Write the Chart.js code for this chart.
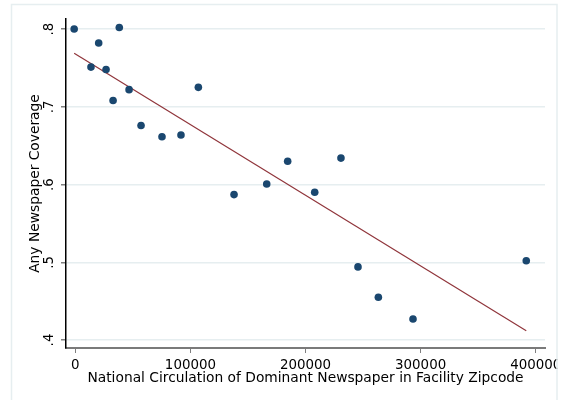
<!DOCTYPE html>
<html>
<head>
<meta charset="utf-8">
<script src="https://cdn.jsdelivr.net/npm/chart.js@4"></script>
<style>
  html, body { margin: 0; padding: 0; background: #fff; }
  #wrap { width: 563px; height: 400px; }
</style>
</head>
<body>
<div id="wrap"><canvas id="chartCanvas" width="563" height="400"></canvas></div>
<script>
// binned scatter: circulation vs share with any coverage
const circulation = [-1000, 13600, 20300, 26700, 32800, 38200, 46700, 57100, 75300, 91800,
  106900, 137900, 166300, 184500, 208000, 230800, 245600, 263300, 293400, 391800];
const coverage = [0.800, 0.751, 0.782, 0.748, 0.708, 0.802, 0.722, 0.676, 0.6615, 0.6637,
  0.725, 0.587, 0.6006, 0.630, 0.590, 0.634, 0.494, 0.455, 0.427, 0.502];

// fitted line end points
const fitX = [-1000, 391800];
const fitY = [0.7687, 0.412];

const xTicks = [0, 100000, 200000, 300000, 400000];
const yTicks = [0.4, 0.5, 0.6, 0.7, 0.8];

const xTitle = 'National Circulation of Dominant Newspaper in Facility Zipcode';
const yTitle = 'Any Newspaper Coverage';

const font = { family: 'DejaVu Sans', size: 13.4 };
const titleFont = { family: 'DejaVu Sans', size: 13.8 };

const framePlugin = {
  id: 'frame',
  afterDraw(chart) {
    const c = chart.ctx;
    c.save();
    c.fillStyle = '#fff';
    c.fillRect(557.5, 0, 10, 400);
    c.strokeStyle = '#e6eef0';
    c.lineWidth = 1.5;
    c.strokeRect(11.5, 4.5, 545.5, 410);
    c.restore();
  }
};

const ctx = document.getElementById('chartCanvas').getContext('2d');

const chart = new Chart(ctx, {
  type: 'scatter',
  data: {
    datasets: [{
      type: 'scatter',
      data: circulation.map((x, i) => ({ x: x, y: coverage[i] })),
      backgroundColor: '#1a476f',
      borderWidth: 0,
      pointRadius: 3.8
    }, {
      type: 'line',
      data: fitX.map((x, i) => ({ x: x, y: fitY[i] })),
      borderColor: '#90353b',
      borderWidth: 1.2,
      pointRadius: 0,
      fill: false
    }]
  },
  options: {
    responsive: false,
    animation: false,
    layout: { padding: { left: 0, top: 19, right: 18, bottom: 0 } },
    plugins: {
      legend: { display: false },
      tooltip: { enabled: false }
    },
    scales: {
      x: {
        type: 'linear',
        min: -8100,
        max: 408080,
        afterBuildTicks: s => { s.ticks = xTicks.map(v => ({ value: v })); },
        afterFit: s => { s.height = 52; s.paddingLeft = 0; s.paddingRight = 0; },
        ticks: {
          font: font,
          color: '#000',
          padding: 4,
          maxRotation: 0,
          callback: v => String(v)
        },
        grid: {
          drawOnChartArea: false,
          drawTicks: true,
          tickLength: 5,
          tickColor: '#7f7f7f'
        },
        border: { color: '#7a7a7a', width: 2 },
        title: {
          display: true,
          text: xTitle,
          font: titleFont,
          color: '#000',
          padding: { top: 0, bottom: 13 }
        }
      },
      y: {
        type: 'linear',
        min: 0.3897,
        max: 0.8129,
        afterBuildTicks: s => { s.ticks = yTicks.map(v => ({ value: v })); },
        afterFit: s => { s.width = 66; s.paddingTop = 0; s.paddingBottom = 0; },
        ticks: {
          font: font,
          color: '#000',
          padding: 5,
          minRotation: 90,
          maxRotation: 90,
          crossAlign: 'center',
          callback: v => v.toFixed(1).replace(/^0/, '')
        },
        grid: {
          color: '#e6eef0',
          lineWidth: 1.5,
          tickLength: 5,
          tickColor: '#7f7f7f'
        },
        border: { color: '#000', width: 1.5 },
        title: {
          display: true,
          text: yTitle,
          font: titleFont,
          color: '#000',
          padding: { top: 27, bottom: 0 }
        }
      }
    }
  },
  plugins: [framePlugin]
});
</script>
</body>
</html>
